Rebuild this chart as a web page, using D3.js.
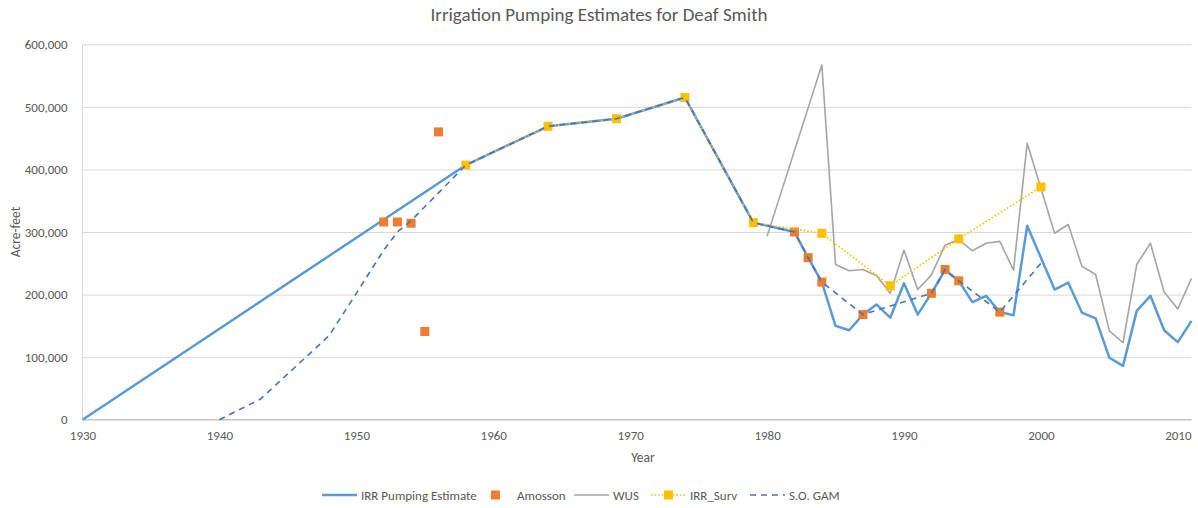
<!DOCTYPE html>
<html>
<head>
<meta charset="utf-8">
<script src="https://cdn.jsdelivr.net/npm/d3@7"></script>
<style>
  html, body { margin: 0; padding: 0; background: #fff; }
  svg { display: block; font-family: Carlito, Lato, "Open Sans", sans-serif; }
</style>
</head>
<body>
<svg id="chart" width="1198" height="508"></svg>
<script>
// IRR Pumping Estimate (acre-feet by year)
const irrYears = [1930,1958,1964,1969,1974,1979,1982,1983,1984,1985,1986,1987,1988,1989,1990,1991,1992,1993,1994,1995,1996,1997,1998,1999,2001,2002,2003,2004,2005,2006,2007,2008,2009,2010,2011];
const irrValues = [0,407000,469000,481000,515000,315000,300000,259000,220000,150000,143000,168000,184000,163000,218000,168000,202000,239000,222000,188000,198000,172000,167000,310000,208000,219000,171000,162000,99000,86000,174000,198000,143000,124000,158000];

// Amosson estimates
const amossonYears = [1952,1953,1954,1955,1956,1982,1983,1984,1987,1992,1993,1994,1997];
const amossonValues = [316000,316000,314000,141000,460000,300000,259000,220000,168000,202000,240000,222000,172000];

// WUS
const wusYears = [1980,1984,1985,1986,1987,1988,1989,1990,1991,1992,1993,1994,1995,1996,1997,1998,1999,2001,2002,2003,2004,2005,2006,2007,2008,2009,2010,2011];
const wusValues = [293000,567000,248000,238000,240000,230000,202000,271000,208000,231000,279000,288000,270000,282000,285000,239000,442000,298000,312000,245000,232000,142000,123000,248000,282000,204000,177000,226000];

// IRR_Surv
const survYears = [1958,1964,1969,1974,1979,1984,1989,1994,2000];
const survValues = [407000,469000,481000,515000,315000,298000,214000,289000,372000];

// S.O. GAM
const gamYears = [1940,1943,1948,1950,1952,1953,1954,1958,1964,1969,1974,1979,1982,1983,1984,1987,1992,1993,1994,1997,2000];
const gamValues = [0,33000,134000,202000,271000,300000,318000,407000,469000,481000,515000,315000,300000,259000,220000,168000,202000,240000,222000,172000,250000];

// Axis ticks
const xTicks = [1930,1940,1950,1960,1970,1980,1990,2000,2010];
const yTicks = [0,100000,200000,300000,400000,500000,600000];

const svg = d3.select("#chart");
const x = d3.scaleLinear().domain([1930, 2011]).range([82.5, 1191.5]);
const y = d3.scaleLinear().domain([0, 600000]).range([419.7, 44.3]);

const pts = (ys, vs) => ys.map((yr, i) => [yr, vs[i]]);
const line = d3.line().x(d => x(d[0])).y(d => y(d[1]));

// Horizontal gridlines
svg.append("g")
  .attr("transform", `translate(${x.range()[0]},0)`)
  .call(d3.axisLeft(y).tickValues(yTicks).tickSize(-(x.range()[1] - x.range()[0])).tickFormat(""))
  .call(g => g.select(".domain").remove())
  .call(g => g.selectAll(".tick line").attr("stroke", "#d9d9d9").attr("stroke-width", 1));

// Y axis line
svg.append("line")
  .attr("x1", x.range()[0]).attr("x2", x.range()[0])
  .attr("y1", y(600000)).attr("y2", y(0))
  .attr("stroke", "#d9d9d9");

// X axis line
svg.append("line")
  .attr("x1", x.range()[0]).attr("x2", x.range()[1])
  .attr("y1", y(0)).attr("y2", y(0))
  .attr("stroke", "#bfbfbf");

// Y tick labels
svg.append("g")
  .attr("transform", `translate(${x.range()[0] - 12},0)`)
  .call(d3.axisLeft(y).tickValues(yTicks).tickSize(0).tickFormat(d3.format(",")))
  .call(g => g.select(".domain").remove())
  .call(g => g.selectAll("text").attr("fill", "#595959").style("font-size", "13px").style("font-family", "Carlito, Lato, sans-serif"));

// X tick labels
svg.append("g")
  .attr("transform", `translate(0,${y(0) + 8})`)
  .call(d3.axisBottom(x).tickValues(xTicks).tickSize(0).tickFormat(d3.format("d")))
  .call(g => g.select(".domain").remove())
  .call(g => g.selectAll("text").attr("fill", "#595959").style("font-size", "13px").style("font-family", "Carlito, Lato, sans-serif"));

// Title and axis titles
svg.append("text")
  .attr("x", 599).attr("y", 21)
  .attr("text-anchor", "middle")
  .attr("fill", "#595959")
  .style("font-size", "19px")
  .text("Irrigation Pumping Estimates for Deaf Smith");

svg.append("text")
  .attr("x", 643).attr("y", 462)
  .attr("text-anchor", "middle")
  .attr("fill", "#595959")
  .style("font-size", "13.5px")
  .text("Year");

svg.append("text")
  .attr("transform", `translate(20,${(y(0) + y(600000)) / 2}) rotate(-90)`)
  .attr("text-anchor", "middle")
  .attr("fill", "#595959")
  .style("font-size", "13.5px")
  .text("Acre-feet");

const plot = svg.append("g");

// IRR Pumping Estimate
plot.append("path")
  .datum(pts(irrYears, irrValues))
  .attr("d", line)
  .attr("fill", "none")
  .attr("stroke", "#5b9bd5")
  .attr("stroke-width", 2.5)
  .attr("stroke-linejoin", "round");

// Amosson markers
plot.append("g").selectAll("rect")
  .data(pts(amossonYears, amossonValues))
  .join("rect")
  .attr("x", d => x(d[0]) - 4.5).attr("y", d => y(d[1]) - 4.5)
  .attr("width", 9).attr("height", 9)
  .attr("fill", "#ed7d31");

// WUS
plot.append("path")
  .datum(pts(wusYears, wusValues))
  .attr("d", line)
  .attr("fill", "none")
  .attr("stroke", "#a5a5a5")
  .attr("stroke-width", 1.6)
  .attr("stroke-linejoin", "round");

// IRR_Surv
plot.append("path")
  .datum(pts(survYears, survValues))
  .attr("d", line)
  .attr("fill", "none")
  .attr("stroke", "#ffc000")
  .attr("stroke-width", 1.6)
  .attr("stroke-dasharray", "1.6,2");

plot.append("g").selectAll("rect")
  .data(pts(survYears, survValues))
  .join("rect")
  .attr("x", d => x(d[0]) - 4.5).attr("y", d => y(d[1]) - 4.5)
  .attr("width", 9).attr("height", 9)
  .attr("fill", "#ffc000");

// S.O. GAM
plot.append("path")
  .datum(pts(gamYears, gamValues))
  .attr("d", line)
  .attr("fill", "none")
  .attr("stroke", "#4472c4")
  .attr("stroke-width", 1.6)
  .attr("stroke-dasharray", "6,5");

// Legend
const legendY = 495;
const legend = svg.append("g").style("font-size", "13px").attr("fill", "#595959");
const items = [
  { name: "IRR Pumping Estimate", x: 322, type: "line", color: "#5b9bd5", width: 2.5, dash: null },
  { name: "Amosson", x: 478, type: "marker", color: "#ed7d31" },
  { name: "WUS", x: 574, type: "line", color: "#a5a5a5", width: 1.6, dash: null },
  { name: "IRR_Surv", x: 651, type: "both", color: "#ffc000", width: 1.6, dash: "1.6,2" },
  { name: "S.O. GAM", x: 750, type: "line", color: "#4472c4", width: 1.6, dash: "6,5" }
];
items.forEach(it => {
  const g = legend.append("g").attr("transform", `translate(${it.x},${legendY})`);
  if (it.type !== "marker") {
    g.append("line").attr("x1", 0).attr("x2", 35).attr("y1", 0).attr("y2", 0)
      .attr("stroke", it.color).attr("stroke-width", it.width)
      .attr("stroke-dasharray", it.dash);
  }
  if (it.type !== "line") {
    g.append("rect").attr("x", 17.5 - 4.5).attr("y", -4.5).attr("width", 9).attr("height", 9).attr("fill", it.color);
  }
  g.append("text").attr("x", 39).attr("y", 4.5).text(it.name);
});
</script>
</body>
</html>
